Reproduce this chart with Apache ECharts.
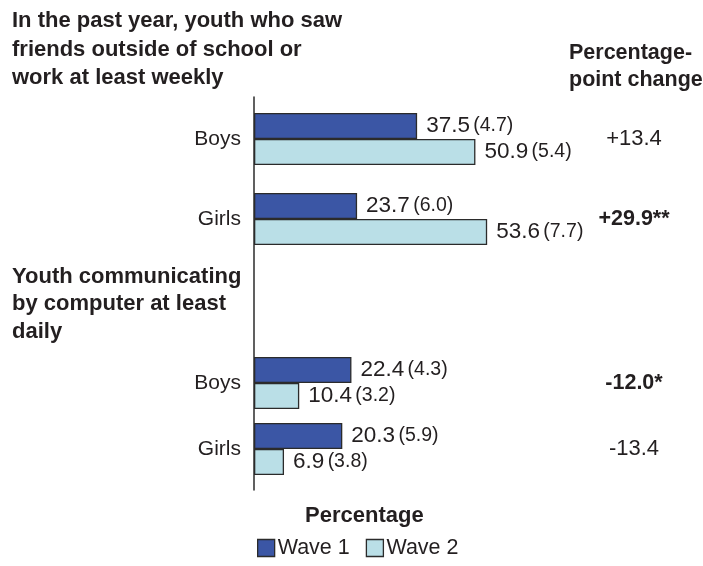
<!DOCTYPE html>
<html><head><meta charset="utf-8">
<script src="https://cdn.jsdelivr.net/npm/echarts@6/dist/echarts.min.js"></script>
<style>html,body{margin:0;padding:0;background:#fff}#c{width:703px;height:566px}</style>
</head><body><div id="c"></div>
<script>
const categories = ['Boys', 'Girls'];
const friendsWave1 = [37.5, 23.7];
const friendsWave1SE = [4.7, 6.0];
const friendsWave2 = [50.9, 53.6];
const friendsWave2SE = [5.4, 7.7];
const friendsChange = ['+13.4', '+29.9**'];
const compWave1 = [22.4, 20.3];
const compWave1SE = [4.3, 5.9];
const compWave2 = [10.4, 6.9];
const compWave2SE = [3.2, 3.8];
const compChange = ['-12.0*', '-13.4'];
const seriesNames = ['Wave 1', 'Wave 2'];

const FONT = "'Liberation Sans', Arial, sans-serif";
const C1 = '#3b56a5', C2 = '#badfe7', TXT = '#231f20';

function withSE(vals, ses) {
  return vals.map((v, i) => ({ value: v, se: ses[i] }));
}
const lbl = {
  show: true, position: 'right', distance: 9,
  formatter: p => '{v|' + p.value.toFixed(1) + '} {s|(' + p.data.se.toFixed(1) + ')}',
  rich: {
    v: { fontFamily: FONT, fontSize: 22.5, color: TXT },
    s: { fontFamily: FONT, fontSize: 19.5, color: TXT }
  }
};
function bar(name, color, vals, ses, gi) {
  return {
    type: 'bar', name, xAxisIndex: gi, yAxisIndex: gi * 2,
    data: withSE(vals, ses), barWidth: 26, barGap: '0%',
    itemStyle: { color, borderColor: '#2b2b2b', borderWidth: 1.3 },
    label: lbl, silent: true
  };
}
const xMax = 80;
const gridLeft = 254, gridWidth = 348;
const chgAxis = (data) => ({
  type: 'category', data, position: 'right', inverse: true,
  axisLine: { show: false }, axisTick: { show: false },
  axisLabel: {
    align: 'center', margin: 32,
    formatter: v => v.indexOf('*') >= 0 ? '{b|' + v + '}' : '{n|' + v + '}',
    rich: {
      b: { fontFamily: FONT, fontSize: 21.5, fontWeight: 'bold', color: TXT },
      n: { fontFamily: FONT, fontSize: 22, color: TXT }
    }
  }
});
const catAxis = {
  type: 'category', data: categories, inverse: true,
  axisLine: { show: false }, axisTick: { show: false },
  axisLabel: { fontFamily: FONT, fontSize: 21, color: TXT, margin: 13 }
};
const hiddenX = { type: 'value', min: 0, max: xMax, show: false };

const chart = echarts.init(document.getElementById('c'), null, { renderer: 'canvas' });
chart.setOption({
  animation: false,
  backgroundColor: '#fff',
  title: [
    { text: 'In the past year, youth who saw\nfriends outside of school or\nwork at least weekly', left: 7, top: 2,
      textStyle: { fontFamily: FONT, fontSize: 22, fontWeight: 'bold', color: TXT, lineHeight: 28.5 } },
    { text: 'Percentage-\npoint change', left: 564, top: 35,
      textStyle: { fontFamily: FONT, fontSize: 21.5, fontWeight: 'bold', color: TXT, lineHeight: 27 } },
    { text: 'Youth communicating\nby computer at least\ndaily', left: 7, top: 258,
      textStyle: { fontFamily: FONT, fontSize: 22, fontWeight: 'bold', color: TXT, lineHeight: 27.5 } },
    { text: 'Percentage', left: 300, top: 500,
      textStyle: { fontFamily: FONT, fontSize: 22, fontWeight: 'bold', color: TXT } }
  ],
  legend: {
    data: seriesNames, bottom: 2, left: 252, icon: 'rect', itemWidth: 17, itemHeight: 17, itemGap: 16,
    textStyle: { fontFamily: FONT, fontSize: 21.5, color: TXT, padding: [0, 0, 0, -2] },
    itemStyle: { borderColor: '#2b2b2b', borderWidth: 1.3 }
  },
  grid: [
    { left: gridLeft, width: gridWidth, top: 99, height: 160 },
    { left: gridLeft, width: gridWidth, top: 350, height: 132 },
    { left: gridLeft, width: gridWidth, top: 97, height: 393 }
  ],
  xAxis: [
    Object.assign({ gridIndex: 0 }, hiddenX),
    Object.assign({ gridIndex: 1 }, hiddenX),
    Object.assign({ gridIndex: 2 }, hiddenX)
  ],
  yAxis: [
    Object.assign({ gridIndex: 0 }, catAxis),
    Object.assign({ gridIndex: 0 }, chgAxis(friendsChange)),
    Object.assign({ gridIndex: 1 }, catAxis),
    Object.assign({ gridIndex: 1 }, chgAxis(compChange)),
    { gridIndex: 2, type: 'value', min: 0, max: 1, axisLine: { show: true, lineStyle: { color: '#2b2b2b', width: 1.5 } },
      axisTick: { show: false }, axisLabel: { show: false }, splitLine: { show: false } }
  ],
  series: [
    bar(seriesNames[0], C1, friendsWave1, friendsWave1SE, 0),
    bar(seriesNames[1], C2, friendsWave2, friendsWave2SE, 0),
    bar(seriesNames[0], C1, compWave1, compWave1SE, 1),
    bar(seriesNames[1], C2, compWave2, compWave2SE, 1)
  ]
});
</script></body></html>
